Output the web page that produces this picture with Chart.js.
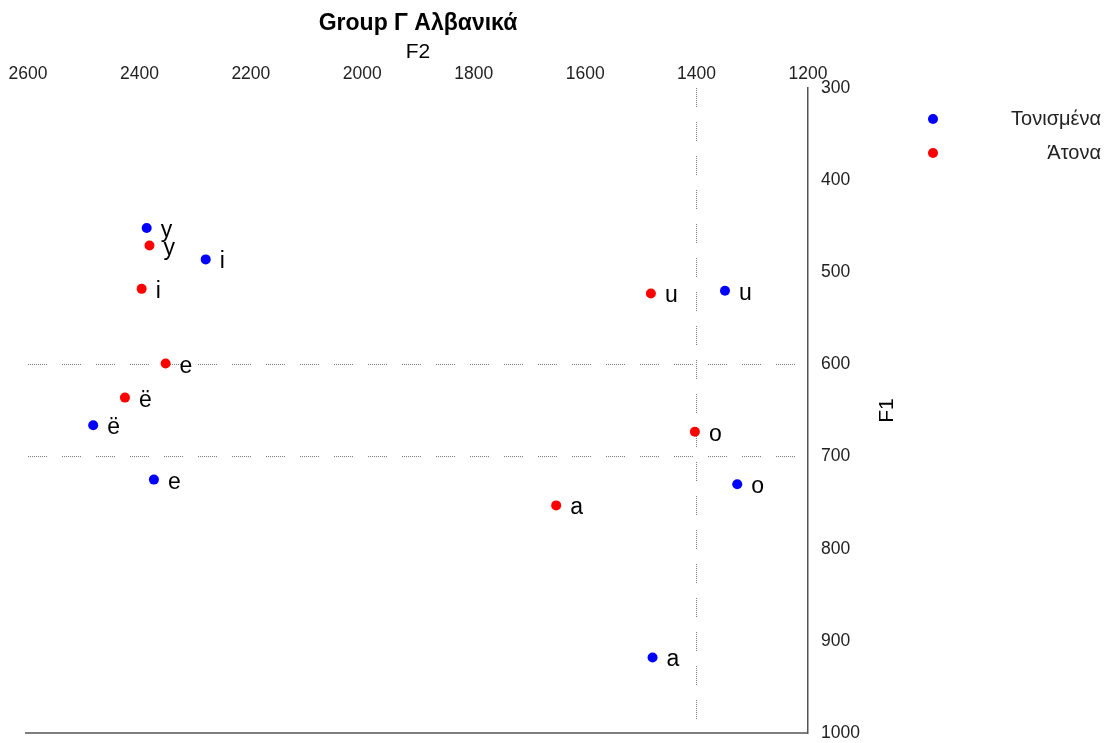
<!DOCTYPE html>
<html>
<head>
<meta charset="utf-8">
<script src="https://cdn.jsdelivr.net/npm/chart.js@4.4.1/dist/chart.umd.min.js"></script>
<style>
html, body { margin: 0; padding: 0; background: #fff; }
</style>
</head>
<body>
<canvas id="myChart" width="1106" height="743"></canvas>
<script>
const ctx = document.getElementById('myChart');

// vowels, same order for both series
const vowels = ['i', 'y', 'e', 'ë', 'a', 'o', 'u'];

// Τονισμένα (stressed)
const stressedF2 = [2281, 2387, 2374, 2483, 1479, 1327, 1349];
const stressedF1 = [486, 452, 725, 666, 918, 730, 520];

// Άτονα (unstressed)
const unstressedF2 = [2396, 2382, 2353, 2426, 1652, 1403, 1482];
const unstressedF1 = [518, 471, 599, 636, 753, 673, 523];

// dotted guide lines
const f1Guides = [600, 700];
const f2Guides = [1400];

const F2_MIN = 1200, F2_MAX = 2600;
const F1_MIN = 300, F1_MAX = 1000;

const TITLE = 'Group Γ Αλβανικά';
const FONT = '"Liberation Sans", Arial, sans-serif';

// dotted groups: 10 dots then a gap
const DOTS = [1, 1, 1, 1, 1, 1, 1, 1, 1, 1, 1, 1, 1, 1, 1, 1, 1, 1, 1, 15];

function toPoints(f2, f1) {
    return f2.map(function(v, i) {
        return {x: v, y: f1[i], label: vowels[i]};
    });
}

var datasets = [
    {
        label: 'Τονισμένα',
        data: toPoints(stressedF2, stressedF1),
        backgroundColor: 'rgb(0, 0, 255)',
        borderWidth: 0,
        pointRadius: 5,
        order: 1,
    },
    {
        label: 'Άτονα',
        data: toPoints(unstressedF2, unstressedF1),
        backgroundColor: 'rgb(255, 0, 0)',
        borderWidth: 0,
        pointRadius: 5,
        order: 1,
    },
];

f1Guides.forEach(function(v) {
    datasets.push({
        label: 'guide',
        data: [{x: F2_MAX, y: v}, {x: F2_MIN, y: v}],
        showLine: true,
        pointRadius: 0,
        borderColor: '#777',
        borderWidth: 1,
        borderDash: DOTS,
        order: 10,
    });
});
f2Guides.forEach(function(v) {
    datasets.push({
        label: 'guide',
        data: [{x: v, y: F1_MIN}, {x: v, y: F1_MAX}],
        showLine: true,
        pointRadius: 0,
        borderColor: '#777',
        borderWidth: 1,
        borderDash: DOTS,
        order: 10,
    });
});

// title, labels next to points, legend, F1 title, bottom line
const extras = {
    id: 'extras',
    afterDatasetsDraw(chart) {
        const c = chart.ctx;
        const area = chart.chartArea;
        c.save();

        // chart title, centred over the plot area
        c.fillStyle = '#000';
        c.font = 'bold 23px ' + FONT;
        c.textAlign = 'center';
        c.textBaseline = 'middle';
        c.fillText(TITLE, (area.left + area.right) / 2, 24);

        // bottom axis line
        c.strokeStyle = '#555';
        c.lineWidth = 1.5;
        c.beginPath();
        c.moveTo(area.left - 3, area.bottom);
        c.lineTo(area.right, area.bottom);
        c.stroke();

        // vowel labels
        c.font = '23px ' + FONT;
        c.textAlign = 'left';
        c.textBaseline = 'alphabetic';
        chart.data.datasets.forEach(function(ds, di) {
            if (ds.label == 'guide') return;
            var meta = chart.getDatasetMeta(di);
            meta.data.forEach(function(pt, i) {
                c.fillText(ds.data[i].label, pt.x + 14, pt.y + 9);
            });
        });

        // F1 axis title (reads bottom to top)
        c.font = '21px ' + FONT;
        c.textAlign = 'center';
        c.textBaseline = 'middle';
        c.translate(887, (area.top + area.bottom) / 2);
        c.rotate(-Math.PI / 2);
        c.fillText('F1', 0, 0);
        c.restore();

        // legend
        c.save();
        c.font = '20px ' + FONT;
        c.textAlign = 'right';
        c.textBaseline = 'middle';
        var ly = 119;
        chart.data.datasets.forEach(function(ds) {
            if (ds.label == 'guide') return;
            c.fillStyle = ds.backgroundColor;
            c.beginPath();
            c.arc(933, ly, 5, 0, Math.PI * 2);
            c.fill();
            c.fillStyle = '#222';
            c.fillText(ds.label, 1101, ly);
            ly += 34;
        });
        c.restore();
    }
};

function plain(v) { return String(v); }

var graphData = {
    type: 'scatter',
    data: { datasets: datasets },
    options: {
        responsive: false,
        animation: false,
        devicePixelRatio: 1,
        layout: {
            padding: { left: 28, right: 198, top: 0, bottom: 10 }
        },
        plugins: {
            legend: { display: false },
            tooltip: { enabled: false },
            title: { display: false },
        },
        scales: {
            x: {
                type: 'linear',
                position: 'top',
                reverse: true,
                min: F2_MIN,
                max: F2_MAX,
                ticks: {
                    stepSize: 200,
                    color: '#222',
                    font: { family: FONT, size: 17.5 },
                    padding: 3,
                    maxRotation: 0,
                    callback: plain,
                },
                grid: { display: false, drawTicks: false },
                border: { display: false },
                title: {
                    display: true,
                    text: 'F2',
                    color: '#000',
                    font: { family: FONT, size: 21, lineHeight: 1.2 },
                    padding: { top: 40, bottom: 0 },
                },
                afterFit: function(scale) { scale.height = 88; },
            },
            y: {
                type: 'linear',
                position: 'right',
                reverse: true,
                min: F1_MIN,
                max: F1_MAX,
                ticks: {
                    stepSize: 100,
                    color: '#222',
                    font: { family: FONT, size: 17.5 },
                    padding: 13,
                    callback: plain,
                },
                grid: { display: false, drawTicks: false },
                border: { display: true, color: '#555', width: 1.5 },
                afterFit: function(scale) {
                    scale.width = 100;
                    scale.paddingTop = 0;
                    scale.paddingBottom = 0;
                },
            },
        },
    },
    plugins: [extras],
};

var myChart = new Chart(ctx, graphData);
</script>
</body>
</html>
